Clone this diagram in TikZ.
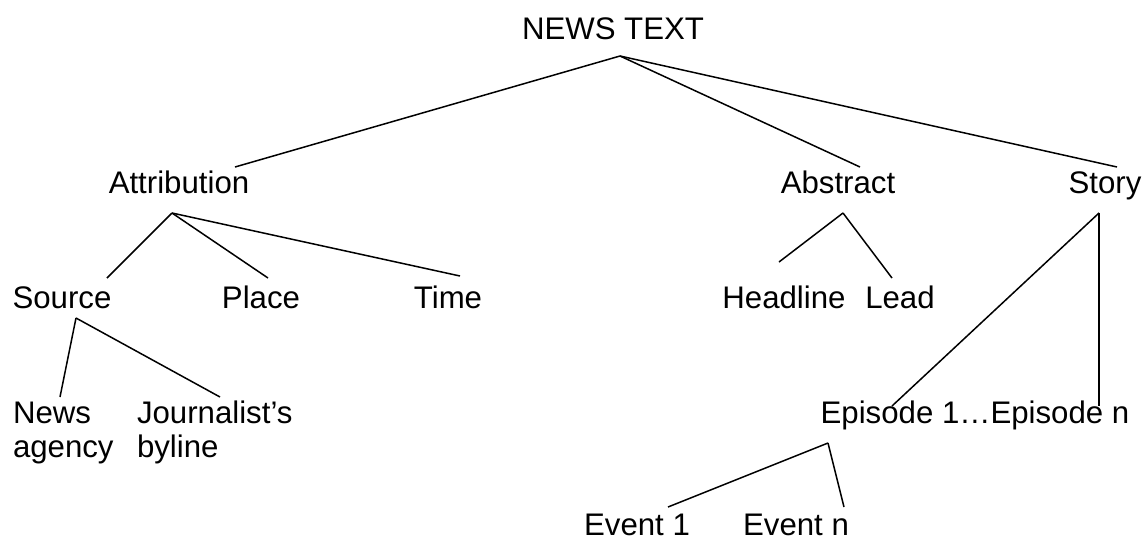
\documentclass[tikz,border=0pt]{standalone}
\usepackage{fontspec}
\setmainfont{Liberation Sans}
\usepackage{tikz}
\usetikzlibrary{positioning, calc}

\begin{document}
\begin{tikzpicture}[
    x=0.5pt, y=-0.5pt,
    every node/.style={inner sep=0pt, outer sep=0pt, anchor=base, font=\fontsize{15.6pt}{17pt}\selectfont, text height=11.5pt, text depth=4pt},
    twoline/.style={align=left, anchor=base west},
    branch/.style={line width=0.75pt}
]
\useasboundingbox (0,0) rectangle (1147,543);

\node (news) at (613,39) {NEWS TEXT};
\node (attr) at (179,193) {Attribution};
\node (abstr) at (838,193) {Abstract};
\node (story) at (1105,193) {Story};
\node (source) at (62,308) {Source};
\node (place) at (261,308) {Place};
\node (time) at (448,308) {Time};
\node (headline) at (784,308) {Headline};
\node (lead) at (900,308) {Lead};
% base of a two-line node is its last line
\node (agency) [twoline] at (13,457) {News\\agency};
\node (byline) [twoline] at (137,457) {Journalist’s\\byline};
\node (episodes) at (975,423) {Episode 1…Episode n};
\node (event1) at (637,535) {Event 1};
\node (eventn) at (796,535) {Event n};

% forks under each parent
\coordinate (newsfork) at ([shift={(7,9)}]news.south);
\coordinate (attrfork) at ([shift={(-7,12)}]attr.south);
\coordinate (sourcefork) at ([shift={(14,2)}]source.south);
\coordinate (abstrfork) at ([shift={(5,12)}]abstr.south);
\coordinate (storyfork) at ([shift={(-6,12)}]story.south);
\coordinate (episodefork) at ([shift={(-147,12)}]episodes.south);

\draw[branch] (newsfork) -- ([shift={(56,-3)}]attr.north);
\draw[branch] (newsfork) -- ([shift={(22,-3)}]abstr.north);
\draw[branch] (newsfork) -- ([shift={(12,-3)}]story.north);

\draw[branch] (attrfork) -- ([shift={(45,-7)}]source.north);
\draw[branch] (attrfork) -- ([shift={(7,-7)}]place.north);
\draw[branch] (attrfork) -- ([shift={(12,-9)}]time.north);

\draw[branch] (sourcefork) -- ([shift={(47,-60)}]agency.base west);
\draw[branch] (sourcefork) -- ([shift={(83,-60)}]byline.base west);

\draw[branch] (abstrfork) -- ([shift={(-5,-23)}]headline.north);
\draw[branch] (abstrfork) -- ([shift={(-8,-7)}]lead.north);

\draw[branch] (storyfork) -- ([shift={(-83,6)}]episodes.north);
\draw[branch] (storyfork) -- ([shift={(124,6)}]episodes.north);

\draw[branch] (episodefork) -- ([shift={(31,-5)}]event1.north);
\draw[branch] (episodefork) -- ([shift={(48,-5)}]eventn.north);
\end{tikzpicture}
\end{document}
